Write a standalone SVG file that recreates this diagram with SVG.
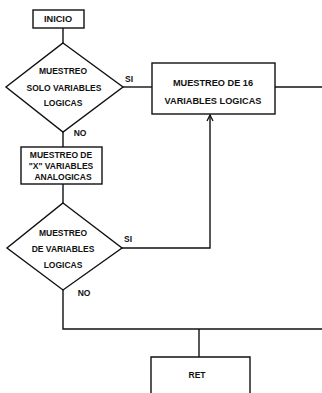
<svg xmlns="http://www.w3.org/2000/svg" width="322" height="393" viewBox="0 0 322 393">
<defs>
<style>
.s{fill:#fff;stroke:#111;stroke-width:1.4}
.l{fill:none;stroke:#111;stroke-width:1.4}
text{font-family:"Liberation Sans",Arial,sans-serif;font-weight:bold;font-size:8.5px;fill:#111;text-anchor:middle}
.b{font-size:9.2px}
</style>
<marker id="ah" markerWidth="8" markerHeight="8" refX="7" refY="4" orient="auto" markerUnits="userSpaceOnUse">
<path d="M1,1 L7,4 L1,7" fill="none" stroke="#111" stroke-width="1.3"/>
</marker>
</defs>
<rect width="322" height="393" fill="#fff"/>
<g id="connectors">
<path class="l" d="M63,28 V43"/>
<path class="l" d="M123,87 H152"/>
<path class="l" d="M275,87 H322"/>
<path class="l" d="M63,132 V147"/>
<path class="l" d="M63,184 V203"/>
<path class="l" d="M122,248 H210 V115" marker-end="url(#ah)"/>
<path class="l" d="M63,290 V329 H322"/>
<path class="l" d="M199,329 V357"/>
<text x="129" y="82">SI</text>
<text x="80" y="136">NO</text>
<text x="128" y="242">SI</text>
<text x="84" y="296">NO</text>
</g>
<g id="inicio">
<rect class="s" x="33" y="10" width="51" height="18"/>
<text x="58" y="22" class="b">INICIO</text>
</g>
<g id="decision1">
<path class="s" d="M63,43 L123,87 L63,132 L6,87 Z"/>
<text x="63" y="74">MUESTREO</text>
<text x="64" y="91">SOLO VARIABLES</text>
<text x="63" y="106">LOGICAS</text>
</g>
<g id="muestreo16">
<rect class="s" x="152" y="63" width="123" height="51"/>
<text x="213" y="86" class="b">MUESTREO DE 16</text>
<text x="213" y="104" class="b">VARIABLES LOGICAS</text>
</g>
<g id="analogicas">
<rect class="s" x="21" y="147" width="81" height="37"/>
<text x="61" y="158">MUESTREO DE</text>
<text x="61" y="169">"X" VARIABLES</text>
<text x="63" y="180">ANALOGICAS</text>
</g>
<g id="decision2">
<path class="s" d="M63,203 L122,248 L63,290 L7,248 Z"/>
<text x="63" y="236">MUESTREO</text>
<text x="63" y="252">DE VARIABLES</text>
<text x="63" y="268">LOGICAS</text>
</g>
<g id="ret">
<path class="s" d="M151,395 V357 H250 V395"/>
<text x="197" y="378">RET</text>
</g>
</svg>
